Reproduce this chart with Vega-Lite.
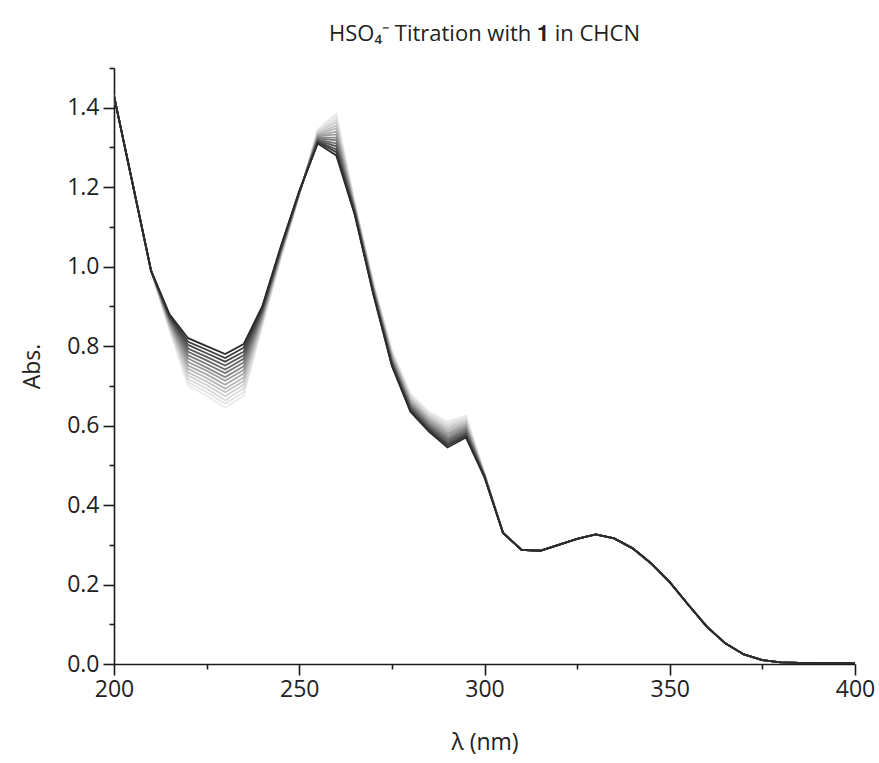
{
  "$schema": "https://vega.github.io/schema/vega-lite/v6.json",
  "width": 741,
  "height": 596,
  "autosize": "none",
  "padding": {"left": 114, "top": 68, "right": 24, "bottom": 99},
  "background": "white",
  "config": {
    "view": {"stroke": null},
    "axis": {"grid": false, "domainColor": "#1a1a1a", "tickColor": "#1a1a1a", "domainWidth": 1.6, "tickWidth": 1.6, "labelFont": "Open Sans", "labelFontSize": 23, "labelColor": "#222", "labelFlush": false, "titleFont": "Open Sans", "titleFontSize": 23, "titleFontWeight": "normal", "titleColor": "#222"}
  },
  "title": {"text": "HSO₄⁻ Titration with 𝟏 in CHCN", "font": "Open Sans", "fontSize": 22, "fontWeight": "normal", "color": "#222", "anchor": "middle", "offset": 21},
  "data": {"values": [
    {"w":200,"k00":1.43,"k01":1.43,"k02":1.43,"k03":1.43,"k04":1.43,"k05":1.43,"k06":1.43,"k07":1.43,"k08":1.43,"k09":1.43,"k10":1.43,"k11":1.43,"k12":1.43,"k13":1.43,"k14":1.43},
    {"w":205,"k00":1.21,"k01":1.21,"k02":1.21,"k03":1.21,"k04":1.21,"k05":1.21,"k06":1.21,"k07":1.21,"k08":1.21,"k09":1.21,"k10":1.21,"k11":1.21,"k12":1.21,"k13":1.21,"k14":1.21},
    {"w":210,"k00":0.99,"k01":0.99,"k02":0.99,"k03":0.99,"k04":0.99,"k05":0.99,"k06":0.99,"k07":0.99,"k08":0.99,"k09":0.99,"k10":0.99,"k11":0.99,"k12":0.99,"k13":0.99,"k14":0.99},
    {"w":215,"k00":0.88,"k01":0.877,"k02":0.874,"k03":0.871,"k04":0.869,"k05":0.866,"k06":0.863,"k07":0.86,"k08":0.857,"k09":0.854,"k10":0.851,"k11":0.849,"k12":0.846,"k13":0.843,"k14":0.84},
    {"w":220,"k00":0.82,"k01":0.811,"k02":0.803,"k03":0.794,"k04":0.786,"k05":0.777,"k06":0.769,"k07":0.76,"k08":0.751,"k09":0.743,"k10":0.734,"k11":0.726,"k12":0.717,"k13":0.709,"k14":0.70},
    {"w":225,"k00":0.80,"k01":0.791,"k02":0.782,"k03":0.773,"k04":0.764,"k05":0.755,"k06":0.746,"k07":0.738,"k08":0.729,"k09":0.72,"k10":0.711,"k11":0.702,"k12":0.693,"k13":0.684,"k14":0.675},
    {"w":230,"k00":0.78,"k01":0.77,"k02":0.761,"k03":0.751,"k04":0.741,"k05":0.732,"k06":0.722,"k07":0.713,"k08":0.703,"k09":0.693,"k10":0.684,"k11":0.674,"k12":0.664,"k13":0.655,"k14":0.645},
    {"w":235,"k00":0.805,"k01":0.796,"k02":0.786,"k03":0.777,"k04":0.768,"k05":0.759,"k06":0.749,"k07":0.74,"k08":0.731,"k09":0.721,"k10":0.712,"k11":0.703,"k12":0.694,"k13":0.684,"k14":0.675},
    {"w":240,"k00":0.90,"k01":0.896,"k02":0.893,"k03":0.889,"k04":0.886,"k05":0.882,"k06":0.879,"k07":0.875,"k08":0.871,"k09":0.868,"k10":0.864,"k11":0.861,"k12":0.857,"k13":0.854,"k14":0.85},
    {"w":245,"k00":1.05,"k01":1.048,"k02":1.046,"k03":1.044,"k04":1.041,"k05":1.039,"k06":1.037,"k07":1.035,"k08":1.033,"k09":1.031,"k10":1.029,"k11":1.026,"k12":1.024,"k13":1.022,"k14":1.02},
    {"w":250,"k00":1.19,"k01":1.189,"k02":1.189,"k03":1.188,"k04":1.187,"k05":1.186,"k06":1.186,"k07":1.185,"k08":1.184,"k09":1.184,"k10":1.183,"k11":1.182,"k12":1.181,"k13":1.181,"k14":1.18},
    {"w":255,"k00":1.31,"k01":1.313,"k02":1.315,"k03":1.318,"k04":1.32,"k05":1.323,"k06":1.325,"k07":1.328,"k08":1.33,"k09":1.333,"k10":1.335,"k11":1.338,"k12":1.34,"k13":1.343,"k14":1.345},
    {"w":260,"k00":1.28,"k01":1.288,"k02":1.295,"k03":1.303,"k04":1.31,"k05":1.318,"k06":1.325,"k07":1.333,"k08":1.34,"k09":1.348,"k10":1.355,"k11":1.363,"k12":1.37,"k13":1.378,"k14":1.385},
    {"w":265,"k00":1.13,"k01":1.132,"k02":1.134,"k03":1.136,"k04":1.139,"k05":1.141,"k06":1.143,"k07":1.145,"k08":1.147,"k09":1.149,"k10":1.151,"k11":1.154,"k12":1.156,"k13":1.158,"k14":1.16},
    {"w":270,"k00":0.93,"k01":0.932,"k02":0.934,"k03":0.936,"k04":0.939,"k05":0.941,"k06":0.943,"k07":0.945,"k08":0.947,"k09":0.949,"k10":0.951,"k11":0.954,"k12":0.956,"k13":0.958,"k14":0.96},
    {"w":275,"k00":0.75,"k01":0.753,"k02":0.756,"k03":0.759,"k04":0.761,"k05":0.764,"k06":0.767,"k07":0.77,"k08":0.773,"k09":0.776,"k10":0.779,"k11":0.781,"k12":0.784,"k13":0.787,"k14":0.79},
    {"w":280,"k00":0.635,"k01":0.638,"k02":0.641,"k03":0.645,"k04":0.648,"k05":0.651,"k06":0.654,"k07":0.658,"k08":0.661,"k09":0.664,"k10":0.667,"k11":0.67,"k12":0.674,"k13":0.677,"k14":0.68},
    {"w":285,"k00":0.585,"k01":0.589,"k02":0.592,"k03":0.596,"k04":0.599,"k05":0.603,"k06":0.606,"k07":0.61,"k08":0.614,"k09":0.617,"k10":0.621,"k11":0.624,"k12":0.628,"k13":0.631,"k14":0.635},
    {"w":290,"k00":0.545,"k01":0.55,"k02":0.554,"k03":0.559,"k04":0.564,"k05":0.568,"k06":0.573,"k07":0.578,"k08":0.582,"k09":0.587,"k10":0.591,"k11":0.596,"k12":0.601,"k13":0.605,"k14":0.61},
    {"w":295,"k00":0.57,"k01":0.574,"k02":0.578,"k03":0.582,"k04":0.586,"k05":0.59,"k06":0.594,"k07":0.598,"k08":0.601,"k09":0.605,"k10":0.609,"k11":0.613,"k12":0.617,"k13":0.621,"k14":0.625},
    {"w":300,"k00":0.47,"k01":0.471,"k02":0.471,"k03":0.472,"k04":0.473,"k05":0.474,"k06":0.474,"k07":0.475,"k08":0.476,"k09":0.476,"k10":0.477,"k11":0.478,"k12":0.479,"k13":0.479,"k14":0.48},
    {"w":305,"k00":0.33,"k01":0.33,"k02":0.33,"k03":0.33,"k04":0.33,"k05":0.33,"k06":0.33,"k07":0.33,"k08":0.33,"k09":0.33,"k10":0.33,"k11":0.33,"k12":0.33,"k13":0.33,"k14":0.33},
    {"w":310,"k00":0.287,"k01":0.287,"k02":0.287,"k03":0.287,"k04":0.287,"k05":0.287,"k06":0.287,"k07":0.287,"k08":0.287,"k09":0.287,"k10":0.287,"k11":0.287,"k12":0.287,"k13":0.287,"k14":0.287},
    {"w":315,"k00":0.285,"k01":0.285,"k02":0.285,"k03":0.285,"k04":0.285,"k05":0.285,"k06":0.285,"k07":0.285,"k08":0.285,"k09":0.285,"k10":0.285,"k11":0.285,"k12":0.285,"k13":0.285,"k14":0.285},
    {"w":320,"k00":0.30,"k01":0.30,"k02":0.30,"k03":0.30,"k04":0.30,"k05":0.30,"k06":0.30,"k07":0.30,"k08":0.30,"k09":0.30,"k10":0.30,"k11":0.30,"k12":0.30,"k13":0.30,"k14":0.30},
    {"w":325,"k00":0.315,"k01":0.315,"k02":0.315,"k03":0.315,"k04":0.315,"k05":0.315,"k06":0.315,"k07":0.315,"k08":0.315,"k09":0.315,"k10":0.315,"k11":0.315,"k12":0.315,"k13":0.315,"k14":0.315},
    {"w":330,"k00":0.326,"k01":0.326,"k02":0.326,"k03":0.326,"k04":0.326,"k05":0.326,"k06":0.326,"k07":0.326,"k08":0.326,"k09":0.326,"k10":0.326,"k11":0.326,"k12":0.326,"k13":0.326,"k14":0.326},
    {"w":335,"k00":0.316,"k01":0.316,"k02":0.316,"k03":0.316,"k04":0.316,"k05":0.316,"k06":0.316,"k07":0.316,"k08":0.316,"k09":0.316,"k10":0.316,"k11":0.316,"k12":0.316,"k13":0.316,"k14":0.316},
    {"w":340,"k00":0.291,"k01":0.291,"k02":0.291,"k03":0.291,"k04":0.291,"k05":0.291,"k06":0.291,"k07":0.291,"k08":0.291,"k09":0.291,"k10":0.291,"k11":0.291,"k12":0.291,"k13":0.291,"k14":0.291},
    {"w":345,"k00":0.253,"k01":0.253,"k02":0.253,"k03":0.253,"k04":0.253,"k05":0.253,"k06":0.253,"k07":0.253,"k08":0.253,"k09":0.253,"k10":0.253,"k11":0.253,"k12":0.253,"k13":0.253,"k14":0.253},
    {"w":350,"k00":0.206,"k01":0.206,"k02":0.206,"k03":0.206,"k04":0.206,"k05":0.206,"k06":0.206,"k07":0.206,"k08":0.206,"k09":0.206,"k10":0.206,"k11":0.206,"k12":0.206,"k13":0.206,"k14":0.206},
    {"w":355,"k00":0.149,"k01":0.149,"k02":0.149,"k03":0.149,"k04":0.149,"k05":0.149,"k06":0.149,"k07":0.149,"k08":0.149,"k09":0.149,"k10":0.149,"k11":0.149,"k12":0.149,"k13":0.149,"k14":0.149},
    {"w":360,"k00":0.094,"k01":0.094,"k02":0.094,"k03":0.094,"k04":0.094,"k05":0.094,"k06":0.094,"k07":0.094,"k08":0.094,"k09":0.094,"k10":0.094,"k11":0.094,"k12":0.094,"k13":0.094,"k14":0.094},
    {"w":365,"k00":0.052,"k01":0.052,"k02":0.052,"k03":0.052,"k04":0.052,"k05":0.052,"k06":0.052,"k07":0.052,"k08":0.052,"k09":0.052,"k10":0.052,"k11":0.052,"k12":0.052,"k13":0.052,"k14":0.052},
    {"w":370,"k00":0.024,"k01":0.024,"k02":0.024,"k03":0.024,"k04":0.024,"k05":0.024,"k06":0.024,"k07":0.024,"k08":0.024,"k09":0.024,"k10":0.024,"k11":0.024,"k12":0.024,"k13":0.024,"k14":0.024},
    {"w":375,"k00":0.01,"k01":0.01,"k02":0.01,"k03":0.01,"k04":0.01,"k05":0.01,"k06":0.01,"k07":0.01,"k08":0.01,"k09":0.01,"k10":0.01,"k11":0.01,"k12":0.01,"k13":0.01,"k14":0.01},
    {"w":380,"k00":0.004,"k01":0.004,"k02":0.004,"k03":0.004,"k04":0.004,"k05":0.004,"k06":0.004,"k07":0.004,"k08":0.004,"k09":0.004,"k10":0.004,"k11":0.004,"k12":0.004,"k13":0.004,"k14":0.004},
    {"w":385,"k00":0.003,"k01":0.003,"k02":0.003,"k03":0.003,"k04":0.003,"k05":0.003,"k06":0.003,"k07":0.003,"k08":0.003,"k09":0.003,"k10":0.003,"k11":0.003,"k12":0.003,"k13":0.003,"k14":0.003},
    {"w":390,"k00":0.002,"k01":0.002,"k02":0.002,"k03":0.002,"k04":0.002,"k05":0.002,"k06":0.002,"k07":0.002,"k08":0.002,"k09":0.002,"k10":0.002,"k11":0.002,"k12":0.002,"k13":0.002,"k14":0.002},
    {"w":395,"k00":0.002,"k01":0.002,"k02":0.002,"k03":0.002,"k04":0.002,"k05":0.002,"k06":0.002,"k07":0.002,"k08":0.002,"k09":0.002,"k10":0.002,"k11":0.002,"k12":0.002,"k13":0.002,"k14":0.002},
    {"w":400,"k00":0.002,"k01":0.002,"k02":0.002,"k03":0.002,"k04":0.002,"k05":0.002,"k06":0.002,"k07":0.002,"k08":0.002,"k09":0.002,"k10":0.002,"k11":0.002,"k12":0.002,"k13":0.002,"k14":0.002}
  ]},
  "transform": [
    {"fold": ["k14","k13","k12","k11","k10","k09","k08","k07","k06","k05","k04","k03","k02","k01","k00"], "as": ["series", "abs"]}
  ],
  "resolve": {"axis": {"x": "independent", "y": "independent"}},
  "layer": [
    {
      "mark": {"type": "line", "strokeWidth": 1.8, "clip": true},
      "encoding": {
        "x": {"field": "w", "type": "quantitative", "scale": {"domain": [200, 400], "nice": false, "zero": false},
              "axis": {"values": [200, 250, 300, 350, 400], "tickSize": 11, "labelPadding": 3, "title": "λ (nm)", "titlePadding": 30, "format": "d"}},
        "y": {"field": "abs", "type": "quantitative", "scale": {"domain": [0, 1.5], "nice": false},
              "axis": {"values": [0, 0.2, 0.4, 0.6, 0.8, 1.0, 1.2, 1.4], "format": ".1f", "tickSize": 11, "labelPadding": 4, "title": "Abs.", "titlePadding": 22}},
        "color": {"field": "series", "type": "nominal", "legend": null,
                  "scale": {"domain": ["k00","k01","k02","k03","k04","k05","k06","k07","k08","k09","k10","k11","k12","k13","k14"],
                            "range": ["#2b2b2b","#3a3a3a","#4a4a4a","#5a5a5a","#6a6a6a","#7a7a7a","#8a8a8a","#999999","#a8a8a8","#b6b6b6","#c3c3c3","#cfcfcf","#dadada","#e3e3e3","#ebebeb"]}}
      }
    },
    {
      "mark": {"type": "line", "opacity": 0},
      "encoding": {
        "x": {"field": "w", "type": "quantitative", "axis": {"orient": "bottom", "values": [225, 275, 325, 375], "tickSize": 5, "labels": false, "domain": false, "title": null}},
        "y": {"field": "abs", "type": "quantitative", "axis": {"orient": "left", "values": [0.1, 0.3, 0.5, 0.7, 0.9, 1.1, 1.3, 1.5], "tickSize": 5, "labels": false, "domain": false, "title": null}},
        "detail": {"field": "series"}
      }
    }
  ]
}
